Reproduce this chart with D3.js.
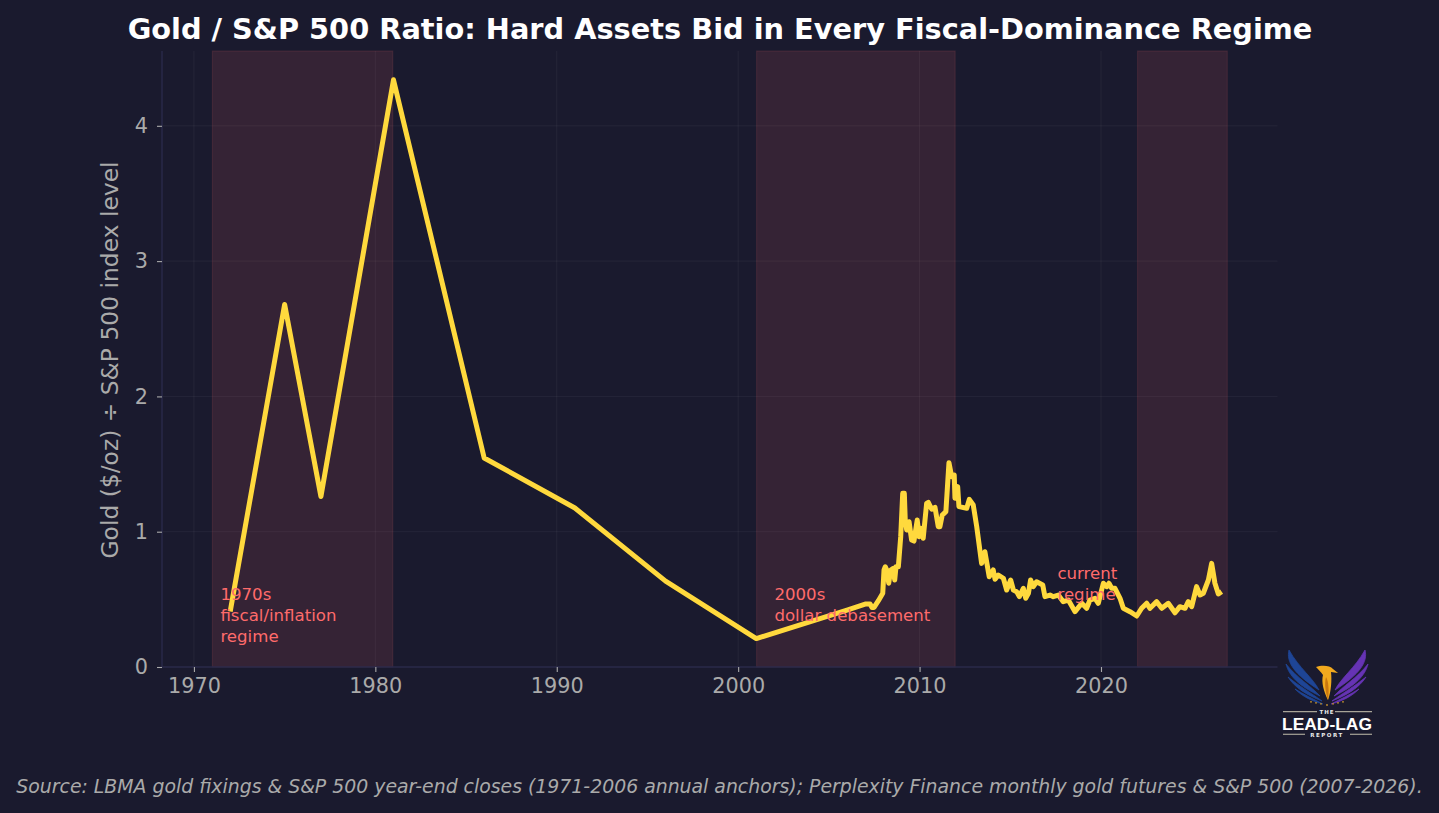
<!DOCTYPE html>
<html>
<head>
<meta charset="utf-8">
<script src="https://cdn.jsdelivr.net/npm/d3@7"></script>
<style>
  html, body { margin: 0; padding: 0; background: #1a1a2e; overflow: hidden; }
  svg { display: block; font-family: "DejaVu Sans", sans-serif; }
</style>
</head>
<body>
<svg id="chart" width="1439" height="813"></svg>
<script>
// Annual anchors, then roughly monthly readings of gold divided by the S&P 500.
const ratioYears = [
  1972, 1975, 1977, 1981, 1986, 1991, 1996, 2001, 2006,
  2007.0, 2007.27, 2007.38, 2007.49, 2007.73, 2007.97, 2008.04, 2008.11, 2008.19, 2008.30, 2008.41,
  2008.55, 2008.63, 2008.70, 2008.83, 2008.96, 2009.07, 2009.16, 2009.21, 2009.29, 2009.42,
  2009.56, 2009.69, 2009.87, 2009.98, 2010.09, 2010.20, 2010.39, 2010.48, 2010.67, 2010.85,
  2011.03, 2011.12, 2011.25, 2011.45, 2011.62, 2011.77, 2011.91, 2011.95, 2012.10, 2012.17,
  2012.60, 2012.74, 2012.96, 2013.15, 2013.42, 2013.60, 2013.84, 2014.06, 2014.16, 2014.34,
  2014.62, 2014.80, 2015.02, 2015.17, 2015.35, 2015.50, 2015.72, 2015.85, 2016.0, 2016.12,
  2016.27, 2016.45, 2016.79, 2016.91, 2017.19, 2017.37, 2017.65, 2017.92, 2018.2, 2018.57,
  2018.94, 2019.21, 2019.39, 2019.67, 2019.85, 2020.13, 2020.32, 2020.44, 2020.59, 2020.77,
  2021.05, 2021.23, 2021.6, 2021.97, 2022.24, 2022.52, 2022.70, 2023.07, 2023.35, 2023.71,
  2024.08, 2024.35, 2024.63, 2024.81, 2025.0, 2025.27, 2025.46, 2025.64, 2025.92, 2026.1,
  2026.28, 2026.47, 2026.65
];
const ratioValues = [
  0.41, 2.68, 1.26, 4.34, 1.545, 1.175, 0.635, 0.21, 0.42,
  0.465, 0.466, 0.44, 0.44, 0.49, 0.545, 0.717, 0.741, 0.717, 0.619, 0.717,
  0.729, 0.643, 0.741, 0.741, 0.963, 1.284, 1.284, 1.086, 1.013, 1.074,
  0.939, 0.931, 1.086, 0.963, 1.025, 0.951, 1.21, 1.217, 1.166, 1.18,
  1.037, 1.037, 1.123, 1.148, 1.51, 1.406, 1.419, 1.247, 1.333, 1.185,
  1.173, 1.239, 1.197, 1.037, 0.766, 0.852, 0.667, 0.717, 0.648, 0.68,
  0.656, 0.569, 0.643, 0.569, 0.557, 0.52, 0.582, 0.508, 0.545, 0.643,
  0.594, 0.63, 0.606, 0.52, 0.532, 0.52, 0.532, 0.483, 0.495, 0.409,
  0.471, 0.434, 0.495, 0.508, 0.471, 0.619, 0.594, 0.619, 0.582, 0.582,
  0.508, 0.434, 0.409, 0.377, 0.434, 0.471, 0.434, 0.483, 0.434, 0.471,
  0.401, 0.446, 0.434, 0.483, 0.446, 0.594, 0.532, 0.545, 0.643, 0.766,
  0.619, 0.54, 0.557
];

// Fiscal-dominance regimes and their labels.
const regimeStarts = [1971, 2001, 2022];
const regimeEnds = [1981, 2012, 2027];
const regimeLabels = [
  ["1970s", "fiscal/inflation", "regime"],
  ["2000s", "dollar debasement"],
  ["current", "regime"]
];
const regimeLabelYears = [1971.46, 2002, 2017.6];
const regimeLabelValues = [0.495, 0.495, 0.65];

const xTicks = [1970, 1980, 1990, 2000, 2010, 2020];
const yTicks = [0, 1, 2, 3, 4];

const titleText = "Gold / S&P 500 Ratio: Hard Assets Bid in Every Fiscal-Dominance Regime";
const yAxisTitle = "Gold ($/oz) ÷ S&P 500 index level";
const sourceText = "Source: LBMA gold fixings & S&P 500 year-end closes (1971-2006 annual anchors); Perplexity Finance monthly gold futures & S&P 500 (2007-2026).";

const box = { left: 162, right: 1277.5, top: 51, bottom: 667 };
const x = d3.scaleLinear().domain([1968.24, 2029.73]).range([box.left, box.right]);
const y = d3.scaleLinear().domain([0, 4.553]).range([box.bottom, box.top]);

const svg = d3.select("#chart");
svg.append("rect").attr("width", 1439).attr("height", 813).attr("fill", "#1a1a2e");

// Gridlines sit under everything else.
const grid = svg.append("g").attr("stroke", "#ffffff").attr("stroke-opacity", 0.05).attr("stroke-width", 1);
grid.selectAll("line.v").data(xTicks).join("line").attr("class", "v")
  .attr("x1", d => x(d)).attr("x2", d => x(d)).attr("y1", box.top).attr("y2", box.bottom);
grid.selectAll("line.h").data(yTicks.slice(1)).join("line").attr("class", "h")
  .attr("x1", box.left).attr("x2", box.right).attr("y1", d => y(d)).attr("y2", d => y(d));

// Regime bands.
svg.append("g").selectAll("rect").data(regimeStarts).join("rect")
  .attr("x", d => x(d) + 0.3)
  .attr("width", (d, i) => x(regimeEnds[i]) - x(d) - 1)
  .attr("y", box.top)
  .attr("height", box.bottom - box.top)
  .attr("fill", "#ff6b6b").attr("fill-opacity", 0.12)
  .attr("stroke", "#ff6b6b").attr("stroke-opacity", 0.12).attr("stroke-width", 1.1);

// Axes.
const axisColor = "#2a2a4a";
const tickText = "#aaaaaa";
const xAxis = svg.append("g").attr("transform", `translate(0,${box.bottom})`)
  .call(d3.axisBottom(x).tickValues(xTicks).tickFormat(d3.format("d")).tickSize(5).tickPadding(6));
const yAxis = svg.append("g").attr("transform", `translate(${box.left},0)`)
  .call(d3.axisLeft(y).tickValues(yTicks).tickFormat(d3.format("d")).tickSize(5).tickPadding(9));
[xAxis, yAxis].forEach(a => {
  a.select(".domain").attr("stroke", axisColor).attr("stroke-width", 1.4);
  a.selectAll(".tick line").attr("stroke", tickText).attr("stroke-width", 1.1);
  a.selectAll(".tick text").attr("fill", tickText).attr("font-size", 20.8).attr("font-family", "DejaVu Sans");
});
xAxis.select(".domain").attr("d", `M${box.left},0H${box.right}`);
yAxis.select(".domain").attr("d", `M0,${box.bottom}V${box.top}`);

// Ratio line.
const ratioLine = d3.line().x(d => x(d[0])).y(d => y(d[1]));
svg.append("path")
  .datum(d3.zip(ratioYears, ratioValues))
  .attr("d", ratioLine)
  .attr("fill", "none")
  .attr("stroke", "#ffd93d")
  .attr("stroke-width", 5)
  .attr("stroke-linejoin", "round");

// Regime labels, drawn above the line.
regimeLabels.forEach((lines, i) => {
  const t = svg.append("text")
    .attr("fill", "#ff6b6b").attr("font-size", 16.6)
    .attr("x", x(regimeLabelYears[i])).attr("y", y(regimeLabelValues[i]));
  lines.forEach((line, k) => {
    t.append("tspan").attr("x", x(regimeLabelYears[i])).attr("dy", k ? 21 : 0).text(line);
  });
});

// Titles and footnote.
svg.append("text").attr("x", 720).attr("y", 39).attr("text-anchor", "middle")
  .attr("fill", "#ffffff").attr("font-weight", "bold").attr("font-size", 28.8).text(titleText);
svg.append("text")
  .attr("transform", `translate(118,${(box.top + box.bottom) / 2 + 1}) rotate(-90)`)
  .attr("text-anchor", "middle").attr("fill", tickText).attr("font-size", 23.4).text(yAxisTitle);
svg.append("text").attr("x", 719.5).attr("y", 793).attr("text-anchor", "middle")
  .attr("fill", tickText).attr("font-style", "italic").attr("font-size", 18.87).text(sourceText);

// Publisher mark: two wings, a bird's head and the wordmark.
const logo = svg.append("g").attr("transform", "translate(1327,0)");
const wingFeathers = [
  "M-38,650 C-41,662 -33,674 -8,690 C-14,678 -28,668 -38,650Z",
  "M-41,664 C-38,676 -28,686 -7,696 C-16,686 -30,678 -41,664Z",
  "M-39,677 C-32,688 -20,695 -5,701 C-16,693 -28,686 -39,677Z",
  "M-32,689 C-24,697 -15,701 -4,704 C-14,699 -24,694 -32,689Z"
];
logo.selectAll("path.left").data(wingFeathers).join("path").attr("class", "left")
  .attr("d", d => d).attr("fill", "#1e4596").attr("stroke", "#1e4596").attr("stroke-width", 0.8);
logo.selectAll("path.right").data(wingFeathers).join("path").attr("class", "right")
  .attr("d", d => d).attr("fill", "#6633b4").attr("stroke", "#6633b4").attr("stroke-width", 0.8)
  .attr("transform", "scale(-1,1)");
logo.append("path")
  .attr("d", "M-11,667 C-6,665 3,665 6,669 L11,673 L4,672 C5,680 4,692 1,700 C-3,692 -6,682 -4,675 C-6,672 -9,669 -11,667Z")
  .attr("fill", "#f2a91e");
logo.append("path").attr("d", "M-1,677 C2,682 2,692 1,700 C-1,694 -3,684 -1,677Z").attr("fill", "#c9770f");
const jewelOffsets = [-16, -11, -6, 0, 6, 11, 16];
logo.selectAll("circle").data(jewelOffsets).join("circle")
  .attr("cx", d => d).attr("cy", d => 705 - Math.abs(d) * 0.2).attr("r", 0.9).attr("fill", "#c4932c");
logo.append("text").attr("x", 0).attr("y", 714).attr("text-anchor", "middle")
  .attr("fill", "#e8e8e8").attr("font-size", 5.5).attr("font-weight", "bold").attr("letter-spacing", 1).text("THE");
logo.append("text").attr("x", 0).attr("y", 730).attr("text-anchor", "middle")
  .attr("fill", "#ffffff").attr("font-size", 17.4).attr("font-weight", "bold")
  .attr("font-family", "Liberation Sans").text("LEAD-LAG");
logo.append("text").attr("x", 0).attr("y", 737).attr("text-anchor", "middle")
  .attr("fill", "#e8e8e8").attr("font-size", 5.5).attr("font-weight", "bold").attr("letter-spacing", 1.5).text("REPORT");
const ruleSpans = [[-44, -10, 711.7], [8, 45, 711.7], [-44, -22, 734.3], [23, 45, 734.3]];
logo.selectAll("line").data(ruleSpans).join("line")
  .attr("x1", d => d[0]).attr("x2", d => d[1]).attr("y1", d => d[2]).attr("y2", d => d[2])
  .attr("stroke", "#a8a498").attr("stroke-width", 1.2);
</script>
</body>
</html>
